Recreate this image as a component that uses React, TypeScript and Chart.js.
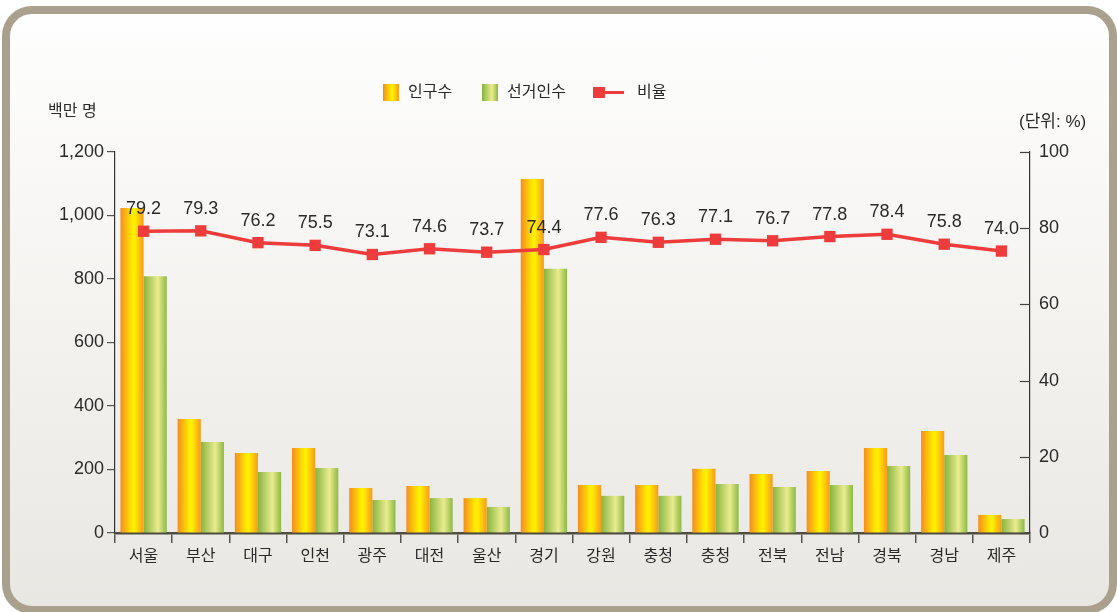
import React, { useEffect, useRef } from 'react';
import { Chart, registerables } from 'chart.js';

Chart.register(...registerables);

// ---- data ----
const categories = ['서울', '부산', '대구', '인천', '광주', '대전', '울산', '경기', '강원', '충청', '충청', '전북', '전남', '경북', '경남', '제주'];
const population = [1024, 359, 252, 268, 142, 148, 110, 1115, 151, 151, 202, 186, 195, 268, 321, 57];
const voters = [809, 287, 192, 205, 104, 110, 82, 832, 117, 117, 154, 145, 151, 211, 246, 44];
const ratio = [79.2, 79.3, 76.2, 75.5, 73.1, 74.6, 73.7, 74.4, 77.6, 76.3, 77.1, 76.7, 77.8, 78.4, 75.8, 74.0];
const seriesNames = ['인구수', '선거인수', '비율'];
const leftAxisTitle = '백만 명';
const rightAxisTitle = '(단위: %)';
const leftTicks = [0, 200, 400, 600, 800, 1000, 1200];
const rightTicks = [0, 20, 40, 60, 80, 100];

// ---- style ----
const FONT = '"Liberation Sans", "Noto Sans CJK KR", sans-serif';
const W = 1117;
const H = 612;
const CAT_PCT = 0.81;
const BAR_PCT = 1;
const RED = '#ee3b3b';
const ORANGE_STOPS: [number, string][] = [[0, '#f58c1f'], [0.5, '#ffea00'], [0.6, '#fff100'], [1, '#f89a1c']];
const GREEN_STOPS: [number, string][] = [[0, '#88b33f'], [0.62, '#eaec8e'], [1, '#8db944']];

function makeGrad(ctx: CanvasRenderingContext2D, x0: number, x1: number, stops: [number, string][]) {
  const g = ctx.createLinearGradient(x0, 0, x1, 0);
  stops.forEach(([o, c]) => g.addColorStop(o, c));
  return g;
}

function barBg(stops: [number, string][], side: number) {
  return (c: any) => {
    const chart = c.chart;
    const xs = chart.scales && chart.scales.x;
    if (!xs || c.type !== 'data' || !isFinite(xs.width)) return stops[1][1];
    const cw = xs.width / categories.length;
    const bw = (cw * CAT_PCT * BAR_PCT) / 2;
    const center = xs.getPixelForValue(c.dataIndex);
    const x0 = side === 0 ? center - bw : center;
    return makeGrad(chart.ctx, x0, x0 + bw, stops);
  };
}

const overlayPlugin = {
  id: 'overlay',
  afterDatasetsDraw(chart: any) {
    const ctx: CanvasRenderingContext2D = chart.ctx;
    // value labels above ratio points
    const lineMeta = chart.getDatasetMeta(0);
    ctx.save();
    ctx.font = `18px ${FONT}`;
    ctx.fillStyle = '#2a2a2a';
    ctx.textAlign = 'center';
    ctx.textBaseline = 'middle';
    lineMeta.data.forEach((el: any, i: number) => {
      ctx.fillText(ratio[i].toFixed(1), el.x, el.y - 22);
    });
    ctx.restore();
  },
  afterDraw(chart: any) {
    const ctx: CanvasRenderingContext2D = chart.ctx;
    const y1 = chart.scales.y1;
    ctx.save();
    // inward tick marks on the right axis
    ctx.strokeStyle = '#444';
    ctx.lineWidth = 1.2;
    rightTicks.forEach((v) => {
      const y = Math.round(y1.getPixelForValue(v)) + 0.5;
      ctx.beginPath();
      ctx.moveTo(y1.left - 10, y);
      ctx.lineTo(y1.left, y);
      ctx.stroke();
    });
    // axis unit titles
    ctx.fillStyle = '#2a2a2a';
    ctx.textBaseline = 'middle';
    ctx.textAlign = 'left';
    ctx.font = `16px ${FONT}`;
    ctx.fillText(leftAxisTitle, 48, 112);
    ctx.font = `17px ${FONT}`;
    ctx.fillText(rightAxisTitle, 1019, 122);
    // legend
    const ly = 92.5;
    ctx.font = `16px ${FONT}`;
    ctx.fillStyle = makeGrad(ctx, 383, 399, ORANGE_STOPS);
    ctx.fillRect(383, 84, 16, 17);
    ctx.fillStyle = makeGrad(ctx, 482, 498, GREEN_STOPS);
    ctx.fillRect(482, 84, 16, 17);
    ctx.fillStyle = RED;
    ctx.fillRect(593, ly - 5.5, 12, 11);
    ctx.strokeStyle = RED;
    ctx.lineWidth = 3;
    ctx.beginPath();
    ctx.moveTo(604, ly);
    ctx.lineTo(624, ly);
    ctx.stroke();
    ctx.fillStyle = '#2a2a2a';
    ctx.fillText(seriesNames[0], 408, ly);
    ctx.fillText(seriesNames[1], 507, ly);
    ctx.fillText(seriesNames[2], 637, ly);
    ctx.restore();
  },
};

export default function App() {
  const ref = useRef<HTMLCanvasElement | null>(null);

  useEffect(() => {
    if (!ref.current) return;
    const chart = new Chart(ref.current, {
      type: 'bar',
      data: {
        labels: categories,
        datasets: [
          {
            type: 'line',
            label: seriesNames[2],
            data: ratio,
            yAxisID: 'y1',
            borderColor: RED,
            backgroundColor: RED,
            borderWidth: 3.5,
            pointStyle: 'rect',
            pointRadius: 8,
            pointBackgroundColor: RED,
            pointBorderColor: RED,
            pointBorderWidth: 0,
            tension: 0,
            order: 0,
          } as any,
          {
            type: 'bar',
            label: seriesNames[0],
            data: population,
            yAxisID: 'y',
            backgroundColor: barBg(ORANGE_STOPS, 0),
            borderWidth: 0,
            categoryPercentage: CAT_PCT,
            barPercentage: BAR_PCT,
            order: 1,
          } as any,
          {
            type: 'bar',
            label: seriesNames[1],
            data: voters,
            yAxisID: 'y',
            backgroundColor: barBg(GREEN_STOPS, 1),
            borderWidth: 0,
            categoryPercentage: CAT_PCT,
            barPercentage: BAR_PCT,
            order: 1,
          } as any,
        ],
      },
      options: {
        responsive: false,
        animation: false,
        events: [],
        layout: { padding: { top: 152, left: 0, right: 0, bottom: 0 } },
        plugins: {
          legend: { display: false },
          tooltip: { enabled: false },
          title: { display: false },
        },
        scales: {
          x: {
            offset: true,
            grid: {
              offset: true,
              drawOnChartArea: false,
              drawTicks: true,
              tickLength: 10,
              color: '#555',
              lineWidth: 1.5,
            },
            border: { display: true, color: '#4f4c40', width: 2.5 },
            ticks: { font: { size: 16, family: FONT }, color: '#2a2a2a', padding: 4, maxRotation: 0, autoSkip: false },
            afterFit: (s: any) => {
              s.height = H - 533;
            },
          },
          y: {
            position: 'left',
            min: 0,
            max: 1200,
            afterBuildTicks: (s: any) => {
              s.ticks = leftTicks.map((v) => ({ value: v }));
            },
            grid: { drawOnChartArea: false, drawTicks: true, tickLength: 8, color: '#555', lineWidth: 1.2 },
            border: { display: true, color: '#333', width: 1.2 },
            ticks: {
              font: { size: 18, family: FONT },
              color: '#2a2a2a',
              padding: 3,
              callback: (v: any) => Number(v).toLocaleString('en-US'),
            },
            afterFit: (s: any) => {
              s.width = 115;
            },
          },
          y1: {
            position: 'right',
            min: 0,
            max: 100,
            afterBuildTicks: (s: any) => {
              s.ticks = rightTicks.map((v) => ({ value: v }));
            },
            grid: { drawOnChartArea: false, drawTicks: false },
            border: { display: true, color: '#333', width: 1.2 },
            ticks: { font: { size: 18, family: FONT }, color: '#2a2a2a', padding: 9 },
            afterFit: (s: any) => {
              s.width = W - 1030;
            },
          },
        },
      },
      plugins: [overlayPlugin],
    });
    return () => chart.destroy();
  }, []);

  return (
    <div style={{ position: 'fixed', left: 0, top: 0, width: W, height: H, overflow: 'hidden', background: '#ffffff' }}>
      <div
        style={{
          position: 'absolute',
          left: 2,
          top: 6,
          width: 1115,
          height: 608,
          boxSizing: 'border-box',
          border: '8px solid #a9a18e',
          borderRadius: 30,
          background: 'linear-gradient(#fefefe, #f4f3f0 50%, #e9e7e2)',
        }}
      />
      <canvas ref={ref} width={W} height={H} style={{ position: 'absolute', left: 0, top: 0, width: W, height: H }} />
    </div>
  );
}
